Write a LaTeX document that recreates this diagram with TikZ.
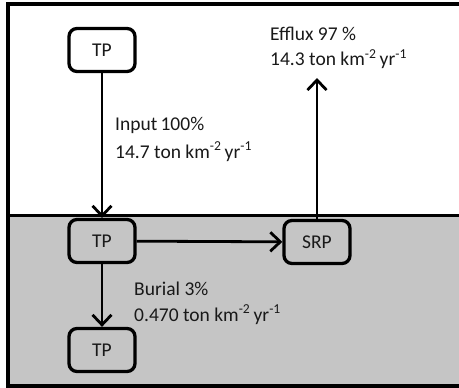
\documentclass[tikz,border=0pt]{standalone}
\usepackage{fontspec}
\setmainfont{Carlito}
\usetikzlibrary{arrows.meta}
\definecolor{sed}{RGB}{197,197,197}
\definecolor{ink}{RGB}{25,25,25}
\tikzset{
  box/.style={draw=black, line width=3.3pt, rounded corners=8pt, minimum width=66pt, minimum height=43pt, inner sep=0pt, text=ink, font=\fontsize{19.5}{23}\selectfont},
  flow/.style={line width=2.8pt, -{Straight Barb[length=10pt,width=19pt]}},
  lbl/.style={anchor=base west, inner sep=0pt, text=ink, font=\fontsize{19.5}{23}\selectfont}
}
\newcommand{\unitsTK}{ton km\textsuperscript{-2}\,yr\textsuperscript{-1}}
\begin{document}
\begin{tikzpicture}[x=1pt,y=-1pt]
\useasboundingbox (0,0) rectangle (459,388);
\fill[sed] (8,215) rectangle (462,386);
\draw[line width=3.2pt] (462,4) -- (8,4) -- (8,386) -- (462,386);
\draw[line width=3pt] (8,215) -- (462,215);
\node[box, fill=white] (tp1) at (102,50) {TP};
\node[box] (tp2) at (102,241) {TP};
\node[box] (srp) at (317,242) {SRP};
\node[box] (tp3) at (102,350) {TP};
\coordinate (efftop) at (317,78);
\draw[flow] (tp1) -- (tp2);
\draw[flow] (tp2) -- (srp);
\draw[flow] (tp2) -- (tp3);
\draw[flow] (srp.north) -- (efftop);
\node[lbl] (eff1) at (270,40) {Efflux 97 \%};
\node[lbl] (eff2) at (270,66) {14.3 \unitsTK};
\node[lbl] (in1) at (115,130) {Input\,100\%};
\node[lbl] (in2) at (115,158) {14.7 \unitsTK};
\node[lbl] (bu1) at (134,295) {Burial 3\%};
\node[lbl] (bu2) at (134,321) {0.470 \unitsTK};
\end{tikzpicture}
\end{document}
